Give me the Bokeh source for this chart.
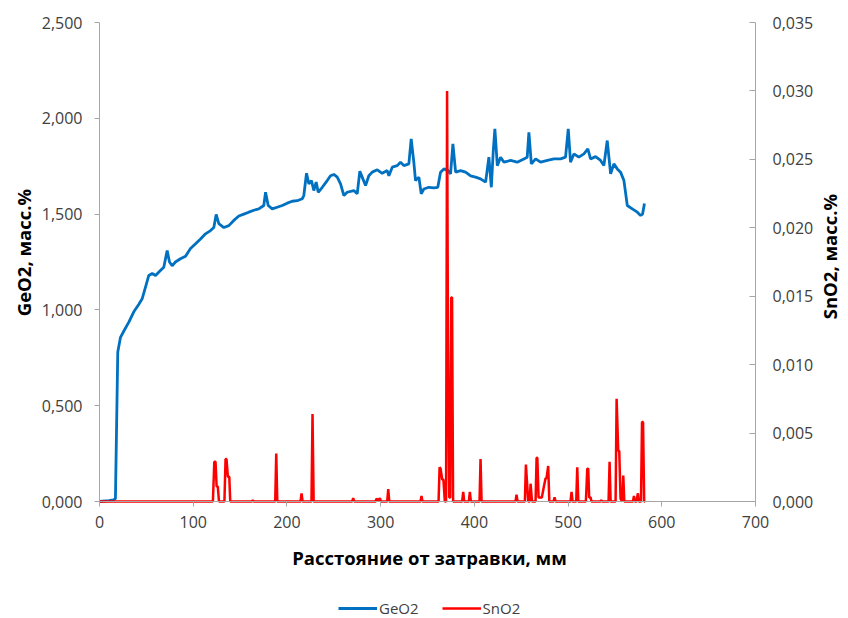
import math
from bokeh.plotting import figure
from bokeh.models import (Range1d, LinearAxis, FixedTicker, CustomJSTickFormatter,
                          Legend, LegendItem, Label)
from bokeh.embed import file_html
from bokeh.resources import INLINE

# GeO2, mass % (left axis) vs distance from seed, mm
geo2_x = [0, 10, 15, 17, 19.5, 22.4, 26, 31.3, 36.6, 42, 45.5, 49, 52.6, 56.2, 59.8, 65, 68.6,
          72.2, 74.7, 77.5, 81, 86.4, 91.8, 97.1, 102.5, 107.8, 113.1, 118.5, 122, 124.5, 127.3,
          132.7, 138, 143.3, 148.7, 154, 159.3, 164.7, 170, 175.3, 177.2, 180, 184.3, 189.6, 195,
          200.3, 205.6, 211, 216.3, 218, 220.9, 223.4, 226.2, 228.7, 231.2, 233.4, 237.7, 243,
          246.5, 250.1, 253.7, 257.2, 260.8, 264.3, 271.4, 275, 277.8, 280.3, 283.9, 287.4, 291,
          296.4, 301.7, 307, 308.8, 312.4, 317.7, 321.2, 324.8, 330.1, 332.6, 335.4, 337.2, 340.8,
          343.3, 346.1, 351.4, 356.8, 361, 363.9, 367.5, 371.8, 374.6, 377.1, 380, 385.3, 390.6,
          396, 401.3, 406.6, 412, 415.5, 418.1, 420.2, 421.9, 424.5, 428, 431.6, 438.6, 445.7,
          452.8, 456.4, 458.2, 460.8, 465.4, 470.7, 477.9, 485, 492, 497.3, 500.2, 502.6, 506.2,
          511.5, 516.9, 521.1, 524, 529.3, 534.7, 538.2, 541.8, 545.4, 548.9, 552.5, 556, 559.6,
          563.2, 568.5, 573.9, 577.4, 579.5, 581.5]
geo2_y = [0.0, 0.005, 0.008, 0.015, 0.78, 0.857, 0.89, 0.936, 0.99, 1.03, 1.058, 1.118, 1.18, 1.19,
          1.18, 1.206, 1.223, 1.31, 1.25, 1.23, 1.25, 1.267, 1.28, 1.32, 1.345, 1.37, 1.397, 1.414,
          1.43, 1.498, 1.45, 1.43, 1.44, 1.467, 1.49, 1.5, 1.51, 1.52, 1.527, 1.545, 1.614, 1.545,
          1.527, 1.536, 1.545, 1.557, 1.567, 1.57, 1.58, 1.597, 1.713, 1.658, 1.675, 1.623, 1.667,
          1.614, 1.64, 1.675, 1.7, 1.707, 1.693, 1.658, 1.597, 1.614, 1.623, 1.606, 1.724, 1.693,
          1.649, 1.7, 1.719, 1.731, 1.713, 1.727, 1.7, 1.745, 1.753, 1.771, 1.753, 1.762, 1.893,
          1.771, 1.675, 1.693, 1.606, 1.631, 1.64, 1.637, 1.64, 1.719, 1.736, 1.727, 1.71, 1.867,
          1.719, 1.727, 1.719, 1.7, 1.693, 1.684, 1.667, 1.797, 1.64, 1.832, 1.945, 1.753, 1.797,
          1.771, 1.78, 1.771, 1.788, 1.797, 1.927, 1.762, 1.788, 1.771, 1.78, 1.788, 1.788, 1.797,
          1.945, 1.771, 1.814, 1.797, 1.814, 1.84, 1.788, 1.8, 1.78, 1.753, 1.884, 1.71, 1.762,
          1.736, 1.719, 1.675, 1.545, 1.527, 1.51, 1.493, 1.5, 1.555]

# SnO2, mass % (right axis)
sno2_x = [0, 121, 122.5, 123.8, 125, 126.2, 127.5, 133.3, 134.5, 135.5, 137, 138.5, 139.5,
          162.5, 163.6, 164.7, 187.5, 188.6, 189.7, 214.5, 215.6, 216.7, 226.2, 227.3, 228.5,
          269.6, 270.7, 271.8, 294.5, 295.6, 297.4, 299.2, 300.3, 307, 308.1, 309.2, 342.5, 343.6,
          344.7, 361.8, 362.9, 364, 365.7, 367, 368.5, 369.8, 370.9, 371.8, 373.2, 374.2, 375.3,
          376.2, 377.3, 387, 388.1, 389.2, 394.1, 395.2, 396.3, 405.5, 406.6, 407.7, 443.9, 445,
          446.1, 453.9, 455, 457.5, 459, 460, 461.5, 465.3, 466.4, 467.2, 468.5, 472, 474.2, 476,
          477, 478.8, 480, 484.5, 485.6, 486.7, 502.6, 503.7, 504.8, 508.7, 509.8, 510.9, 519,
          520.5, 521.5, 522.5, 524, 525, 534.3, 535.4, 536.5, 543.2, 544.3, 545.4, 550.7, 551.8,
          553.5, 554.6, 556, 557.8, 558.9, 560, 569.2, 570.3, 571.4, 573, 574.5, 575.6, 577.8,
          578.9, 580, 581.2, 582]
sno2_y = [0, 0, 0.0029, 0.0029, 0.0011, 0.0011, 0, 0, 0.0031, 0.0031, 0.0018, 0.0018, 0,
          0, 0.0001, 0, 0, 0.0035, 0, 0, 0.0006, 0, 0, 0.0064, 0,
          0, 0.00024, 0, 0, 0.0002, 0.0001, 0.00024, 0, 0, 0.0009, 0, 0, 0.0004,
          0, 0, 0.0025, 0.0024, 0.0016, 0.0016, 0, 0, 0.030, 0.012, 0.0003, 0.0003, 0.0149,
          0.0149, 0, 0, 0.0007, 0, 0, 0.0007, 0, 0, 0.0031, 0, 0, 0.0005,
          0, 0, 0.0027, 0, 0, 0.0013, 0, 0, 0.0032, 0.0032, 0.0003, 0.0003, 0.0011, 0.0017,
          0.0017, 0.0026, 0, 0, 0.0003, 0, 0, 0.0007, 0, 0, 0.0025, 0, 0,
          0.0024, 0.0024, 0.0003, 0.0003, 0, 0, 0.0001, 0, 0, 0.0029, 0, 0, 0.0075,
          0.0037, 0.0037, 0.0002, 0, 0.0019, 0, 0, 0.0004, 0, 0, 0.0006, 0, 0,
          0.0058, 0.0058, 0, 0]

x_ticks = [0, 100, 200, 300, 400, 500, 600, 700]
left_ticks = [0, 0.5, 1.0, 1.5, 2.0, 2.5]
right_ticks = [0, 0.005, 0.010, 0.015, 0.020, 0.025, 0.030, 0.035]

W, H = 848, 618
# plot-area placement in pixels (whole canvas is the frame; axes are pinned)
PX_L, PX_R, PX_T, PX_B = 99, 755, 22, 501
X0, X1 = 0, 700
Y0, Y1 = 0, 2.5
S0, S1 = 0, 0.035

kx = (PX_R - PX_L) / (X1 - X0)
ky = (PX_B - PX_T) / (Y1 - Y0)
ks = (PX_B - PX_T) / (S1 - S0)


def dx(px):
    return X0 + (px - PX_L) / kx


def dy(py):
    return Y0 + (PX_B - py) / ky


FONT = "Open Sans"
AXIS_GRAY = "#a6a6a6"
LABEL_GRAY = "#404040"

p = figure(width=W, height=H, output_backend="svg", toolbar_location=None,
           x_range=Range1d(dx(0), dx(W)), y_range=Range1d(dy(H), dy(0)),
           min_border=0)
p.extra_y_ranges = {"sn": Range1d(S0 - (H - PX_B) / ks, S1 + PX_T / ks)}
p.outline_line_color = None
p.xgrid.visible = False
p.ygrid.visible = False

fmt3 = CustomJSTickFormatter(code="return tick.toFixed(3).replace('.', ',');")

ya = p.yaxis[0]
ya.ticker = FixedTicker(ticks=left_ticks)
ya.formatter = fmt3
ya.fixed_location = X0
ya.bounds = (Y0, Y1)

xa = p.xaxis[0]
xa.ticker = FixedTicker(ticks=x_ticks)
xa.fixed_location = Y0
xa.bounds = (X0, X1)

ra = LinearAxis(y_range_name="sn", ticker=FixedTicker(ticks=right_ticks), formatter=fmt3,
                fixed_location=X1, bounds=(S0, S1))
p.add_layout(ra, "right")

for ax in (xa, ya, ra):
    ax.axis_line_color = AXIS_GRAY
    ax.axis_line_width = 1
    ax.major_tick_line_color = AXIS_GRAY
    ax.minor_tick_line_color = None
    ax.major_label_text_font = FONT
    ax.major_label_text_font_size = "16px"
    ax.major_label_text_color = LABEL_GRAY

ya.major_tick_out = 5
ya.major_tick_in = 0
ya.major_label_standoff = 12

xa.major_tick_out = 5
xa.major_tick_in = 0
xa.major_label_standoff = 9

ra.major_tick_out = 0
ra.major_tick_in = 6
ra.major_label_standoff = 17

r1 = p.line(geo2_x, geo2_y, line_color="#0070C0", line_width=2.8)
r2 = p.line(sno2_x, sno2_y, line_color="#FF0000", line_width=2.5, y_range_name="sn")

title_kw = dict(text_font=FONT, text_font_size="18.5px", text_font_style="bold",
                text_color="black", text_align="center", text_baseline="middle")
p.add_layout(Label(x=dx(23), y=dy(252), text="GeO2, масс.%", angle=math.pi / 2, **title_kw))
p.add_layout(Label(x=dx(829), y=dy(256), text="SnO2, масс.%", angle=math.pi / 2, **title_kw))
p.add_layout(Label(x=dx(429), y=dy(557), text="Расстояние от затравки, мм", **title_kw))

legend = Legend(items=[LegendItem(label="GeO2", renderers=[r1]),
                       LegendItem(label="SnO2", renderers=[r2])],
                orientation="horizontal", location=(338, 0),
                padding=0, margin=0, spacing=23, glyph_width=39, glyph_height=16,
                label_height=16, label_standoff=2,
                label_text_font=FONT, label_text_font_size="15px", label_text_color=LABEL_GRAY,
                background_fill_alpha=0, border_line_color=None)
p.add_layout(legend)

open("out.html", "w").write(file_html(p, INLINE))
